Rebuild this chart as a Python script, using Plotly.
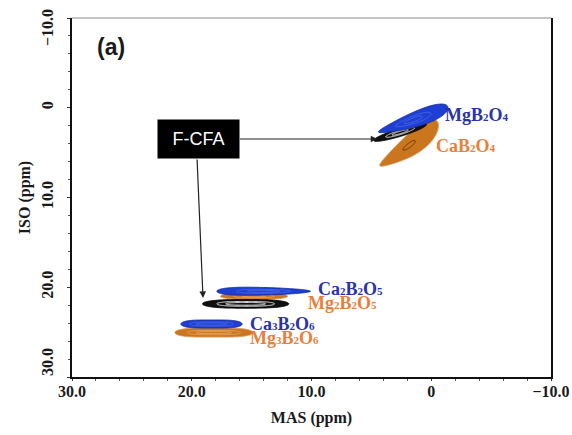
import numpy as np
import plotly.graph_objects as go

# --- peak table (ppm) -------------------------------------------------------
peak_names    = ["CaB2O4", "F-CFA site 1", "MgB2O4",
                 "Mg2B2O5", "Ca2B2O5", "F-CFA site 2",
                 "Mg3B2O6", "Ca3B2O6"]
mas_center    = [1.85, 2.6, 1.5, 14.8, 14.0, 15.5, 18.15, 18.35]
iso_center    = [4.2, 2.75, 1.35, 21.0, 20.45, 21.85, 25.05, 24.1]
mas_halfwidth = [2.45, 2.2, 2.9, 2.8, 3.9, 3.6, 3.25, 2.55]
iso_halfwidth = [1.35, 0.45, 0.85, 0.35, 0.42, 0.48, 0.5, 0.45]
iso_slope     = [0.9, 0.40, 0.46, 0.0, 0.0, 0.0, 0.0, 0.0]
# thinning of the peak towards its high-MAS end (+) or low-MAS end (-)
taper         = [0.5, 0.0, 0.45, 0.0, -0.35, 0.0, 0.0, 0.0]
# flatness of the MAS profile (2 = Gaussian)
mas_power     = [2, 2, 2, 3, 2.5, 3, 4, 4]
peak_family   = ["orange", "black", "blue",
                 "orange", "blue", "black",
                 "orange", "blue"]

# --- labels -----------------------------------------------------------------
SUB = "<span style='font-size:11px'>%s</span>"
label_text = ["MgB" + SUB % "2" + "O" + SUB % "4",
              "CaB" + SUB % "2" + "O" + SUB % "4",
              "Ca" + SUB % "2" + "B" + SUB % "2" + "O" + SUB % "5",
              "Mg" + SUB % "2" + "B" + SUB % "2" + "O" + SUB % "5",
              "Ca" + SUB % "3" + "B" + SUB % "2" + "O" + SUB % "6",
              "Mg" + SUB % "3" + "B" + SUB % "2" + "O" + SUB % "6"]
label_mas  = [-1.0, -0.2, 9.6, 10.5, 15.3, 15.3]
label_iso  = [0.85, 4.3, 20.2, 21.7, 24.1, 25.65]
label_family = ["blue", "orange", "blue", "orange", "blue", "orange"]

x_tickvals = [30, 20, 10, 0, -10]
x_ticktext = ["30.0", "20.0", "10.0", "0", "\u221210.0"]
y_tickvals = [-10, 0, 10, 20, 30]
y_ticktext = ["\u221210.0", "0", "10.0", "20.0", "30.0"]
# the two end labels of the ISO axis are nudged inside the frame height
y_end_ticks = {-10: 28, 30: 362}   # tick value -> label centre, px from top

palette = {
    "blue":   dict(fill="#1f3fd4", edge="#1a2f9c", inner="#4566e6", text="#2a33a8"),
    "orange": dict(fill="#c9761f", edge="#d9975a", inner="#e6a45e", text="#e8803a"),
    "black":  dict(fill="#101010", edge="#000000", inner="#e6e6e6", text="#000000"),
}
inner_levels = {"blue": (0.55, 0.85), "orange": (0.6, 0.9), "black": (0.5, 0.8)}
# darker core contour for the broad orthoborate peak
core_style = {"CaB2O4": dict(color="#6e3606", level=0.9)}

SERIF = "Liberation Serif"
LEVEL = 0.1
LN = 2 * np.log(1 / LEVEL)

W, H = 572, 435
ML, MR, MT, MB = 72, 21, 18, 58

fig = go.Figure()

for i, name in enumerate(peak_names):
    mc, ic = mas_center[i], iso_center[i]
    mh, ih, s = mas_halfwidth[i], iso_halfwidth[i], iso_slope[i]
    p, tp = mas_power[i], taper[i]
    fam = peak_family[i]
    col = palette[fam]
    xs = np.linspace(mc - 1.25 * mh, mc + 1.25 * mh, 120)
    span = 1.4 * ih + abs(s) * 1.25 * mh
    ys = np.linspace(ic - span, ic + span, 120)
    X, Y = np.meshgrid(xs, ys)
    u = X - mc
    thick = np.clip(1 - tp * u / mh, 0.15, None)
    v = (Y - ic - s * u) / thick
    su = mh / LN ** (1 / p)
    sv = ih / np.sqrt(LN)
    Z = np.exp(-0.5 * np.abs(u / su) ** p - 0.5 * (v / sv) ** 2)

    # constraint fill shades the excluded side, so keep z < LEVEL to paint the peak body
    fig.add_trace(go.Contour(
        x=xs, y=ys, z=Z, name=name, showscale=False, hoverinfo="skip",
        contours=dict(type="constraint", operation="<", value=LEVEL),
        fillcolor=col["fill"], line=dict(color=col["edge"], width=1, smoothing=1),
    ))
    if name in core_style:
        cs = core_style[name]
        lo = hi = cs["level"]
        inner_col = cs["color"]
    else:
        lo, hi = inner_levels[fam]
        inner_col = col["inner"]
    fig.add_trace(go.Contour(
        x=xs, y=ys, z=Z, name=name, showscale=False, hoverinfo="skip",
        contours=dict(coloring="lines", start=lo, end=hi, size=max(hi - lo, 0.01)),
        colorscale=[[0, inner_col], [1, inner_col]],
        line=dict(width=1, smoothing=1),
    ))

annotations = []
for t, xm, yi, fam in zip(label_text, label_mas, label_iso, label_family):
    annotations.append(dict(
        x=xm, y=yi, xref="x", yref="y", text=t, showarrow=False,
        xanchor="left", yanchor="middle",
        font=dict(family=SERIF, size=18, color=palette[fam]["text"], weight="bold"),
    ))

axis_font = dict(family=SERIF, size=16, color="#1a1a1a", weight="bold")

# end labels of the ISO axis, written beside the axis
plot_h = H - MT - MB
y_axis_text = []
for val, txt in zip(y_tickvals, y_ticktext):
    if val in y_end_ticks:
        annotations.append(dict(
            x=-25 / (W - ML - MR), y=1 - (y_end_ticks[val] - MT) / plot_h,
            xref="paper", yref="paper", text=txt, textangle=-90, showarrow=False,
            xanchor="center", yanchor="middle", font=axis_font,
        ))
        y_axis_text.append("")
    else:
        y_axis_text.append(txt)

# panel tag
annotations.append(dict(
    x=0.048, y=0.92, xref="paper", yref="paper", text="(a)", showarrow=False,
    xanchor="left", yanchor="middle",
    font=dict(family="Liberation Sans", size=23, color="#1a1a1a", weight="bold"),
))

# F-CFA tag box and pointers
annotations.append(dict(
    x=19.45, y=3.48, xref="x", yref="y", text="F-CFA", showarrow=False,
    xanchor="center", yanchor="middle", bgcolor="#000000",
    width=81, height=38, borderpad=0,
    font=dict(family="Liberation Sans", size=18, color="#ffffff"),
))
annotations.append(dict(
    x=4.5, y=3.48, ax=16.1, ay=3.48, xref="x", yref="y", axref="x", ayref="y",
    text="", showarrow=True, arrowhead=2, arrowsize=1.1, arrowwidth=1.2,
    arrowcolor="#222222",
))
annotations.append(dict(
    x=19.06, y=21.2, ax=19.56, ay=5.6, xref="x", yref="y", axref="x", ayref="y",
    text="", showarrow=True, arrowhead=2, arrowsize=1.1, arrowwidth=1.2,
    arrowcolor="#222222",
))

fig.update_layout(
    width=W, height=H,
    margin=dict(l=ML, r=MR, t=MT, b=MB),
    paper_bgcolor="white", plot_bgcolor="white",
    showlegend=False,
    annotations=annotations,
    shapes=[dict(type="line", xref="paper", yref="paper", x0=0, x1=1, y0=1, y1=1,
                 line=dict(color="#8a8a8a", width=1.2))],
    xaxis=dict(
        range=[30, -10], tickvals=x_tickvals, ticktext=x_ticktext, automargin=False,
        showgrid=False, zeroline=False, showline=True, linecolor="#111111", linewidth=1.5,
        ticks="outside", ticklen=2, tickcolor="#333333", tickfont=axis_font,
        ticklabelstandoff=-3,
        minor=dict(dtick=2, ticks="outside", ticklen=2, tickcolor="#555555"),
        title=dict(text="MAS (ppm)", font=axis_font, standoff=13),
    ),
    yaxis=dict(
        range=[30, -10], tickvals=y_tickvals, ticktext=y_axis_text, tickangle=-90,
        automargin=False,
        showgrid=False, zeroline=False, showline=True, linecolor="#111111", linewidth=1.5,
        mirror=True, ticklabelstandoff=8,
        ticks="outside", ticklen=3, tickcolor="#333333", tickfont=axis_font,
        minor=dict(dtick=2, ticks="outside", ticklen=2, tickcolor="#555555"),
        title=dict(text="ISO (ppm)", font=axis_font, standoff=4),
    ),
)

fig.write_html("out.html")
